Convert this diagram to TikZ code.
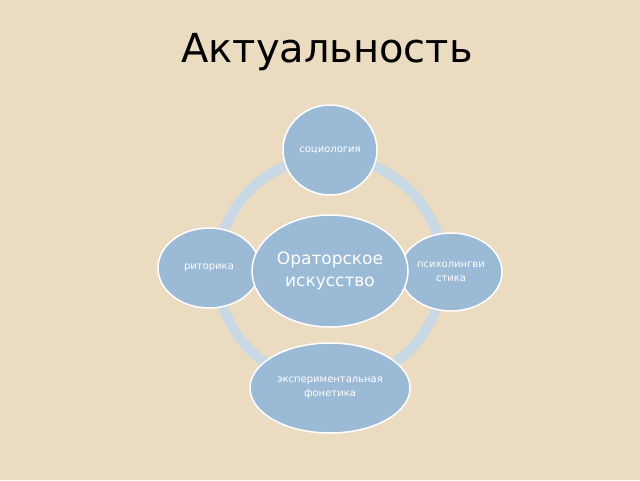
\documentclass[tikz,border=0pt]{standalone}
\usepackage{fontspec}
\setmainfont{DejaVu Sans}
\usepackage{tikz}
\usetikzlibrary{backgrounds}
\usetikzlibrary{shapes.geometric}
\definecolor{bg}{HTML}{EBDCC1}
\definecolor{bubble}{HTML}{9BBAD6}
\definecolor{ring}{HTML}{C9D8E5}

\begin{document}
\begin{tikzpicture}[x=1pt,y=-1pt]
	\useasboundingbox (0,0) rectangle (640,480);
	\fill[bg] (0,0) rectangle (640,480);
	\node (0) at (327,52) {\fontsize{40}{44}\selectfont Актуальность};
	\draw[ring,line width=10pt] (330,270) circle (113);
	\begin{scope}[every node/.style={ellipse,fill=bubble,draw=white,line width=1.5pt,
	              text=white,align=center,inner sep=0pt,font=\fontsize{10}{14}\selectfont}]
	    	\node[minimum width=94,minimum height=90] (1) at (330,150) {социология};
	    	\node[minimum width=102,minimum height=80] (2) at (209,268) {риторика};
	    	\node[minimum width=102,minimum height=78] (3) at (451,272) {психолингви\\стика};
	    	\node[minimum width=160,minimum height=90] (4) at (330,388) {экспериментальная\\фонетика};
	    	\node[minimum width=156,minimum height=112,font=\fontsize{17}{22}\selectfont] (5) at (330,271) {Ораторское\\искусство};
	\end{scope}
\end{tikzpicture}
\end{document}
